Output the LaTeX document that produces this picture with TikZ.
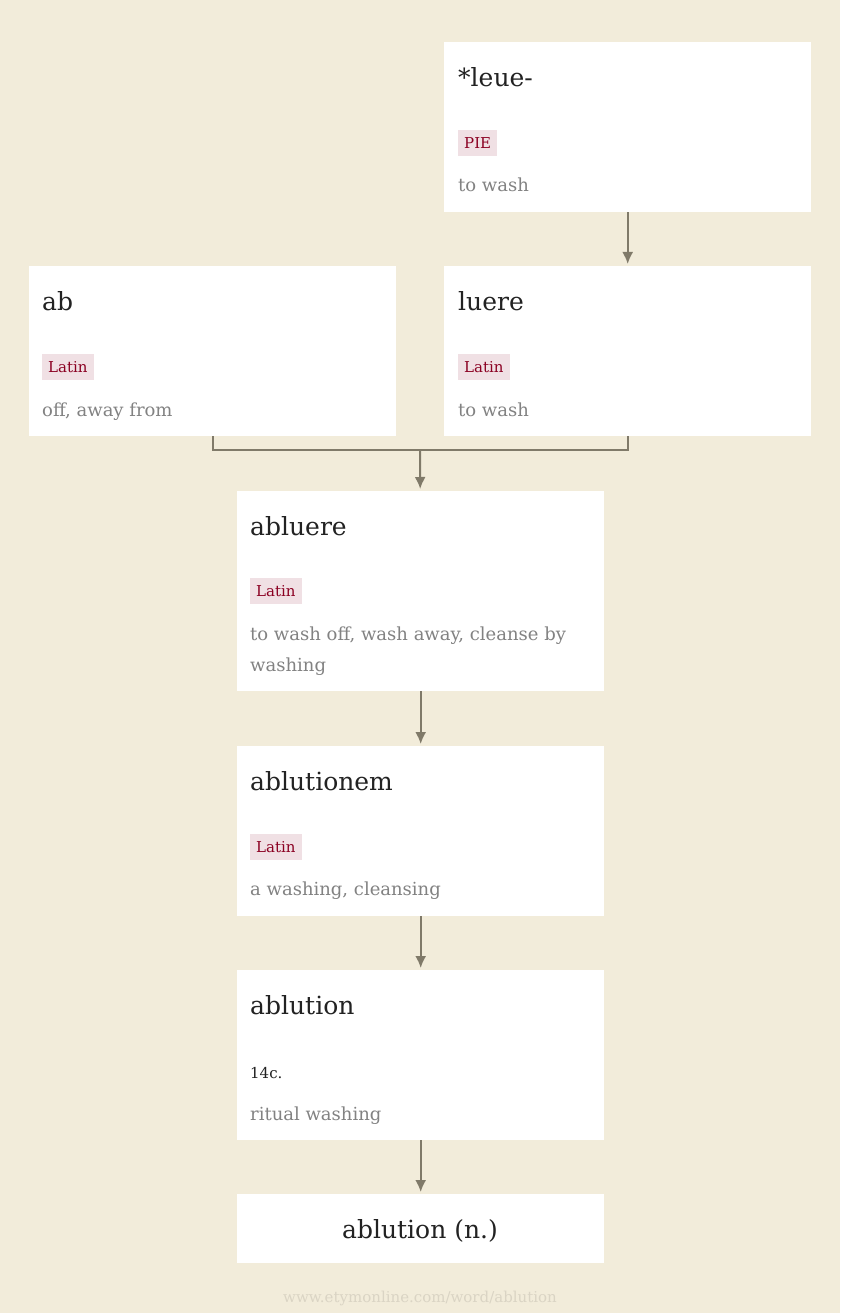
\documentclass[tikz,border=0pt]{standalone}
\usepackage{fontspec}
\setmainfont{DejaVu Serif}
\usetikzlibrary{arrows.meta}
\definecolor{paper}{RGB}{242,236,218}
\definecolor{wordtext}{RGB}{34,34,34}
\definecolor{glosstext}{RGB}{130,130,130}
\definecolor{tagtext}{RGB}{139,0,34}
\definecolor{tagbg}{RGB}{240,224,228}
\definecolor{linkcol}{RGB}{128,122,105}
\definecolor{foottext}{RGB}{218,212,196}

\begin{document}
\begin{tikzpicture}[x=1pt, y=-1pt,
    card/.style={rectangle, fill=white, inner sep=0pt, anchor=north west, minimum width=367pt, minimum height=170pt},
    word/.style={anchor=base west, inner sep=0pt, text=wordtext, font=\fontsize{25}{29}\selectfont},
    lang/.style={anchor=west, fill=tagbg, text=tagtext, inner xsep=6pt, inner ysep=0pt, minimum height=26pt, font=\fontsize{15}{18}\selectfont},
    gloss/.style={anchor=base west, inner sep=0pt, text=glosstext, align=left, font=\fontsize{18}{31}\selectfont},
    link/.style={draw=linkcol, line width=2pt},
    arrow/.style={link, -{Latex[length=12pt, width=11pt]}, shorten >=2pt}]
    \useasboundingbox[fill=paper] (0, 0) rectangle (840, 1313);

    % 語のカード
    \node[card] (leue) at (444, 42) {};
    \node[card] (ab) at (29, 266) {};
    \node[card] (luere) at (444, 266) {};
    \node[card, minimum height=200pt] (abluere) at (237, 491) {};
    \node[card] (ablutionem) at (237, 746) {};
    \node[card] (ablution) at (237, 970) {};
    \node[card, minimum height=69pt] (final) at (237, 1194) {};

    \node[word] (leue_word) at (458, 87) {*leue-};
    \node[lang] (leue_lang) at (458, 143) {PIE};
    \node[gloss] (leue_def) at (458, 192) {to wash};

    \node[word] (ab_word) at (42, 311) {ab};
    \node[lang] (ab_lang) at (42, 367) {Latin};
    \node[gloss] (ab_def) at (42, 416) {off, away from};

    \node[word] (luere_word) at (458, 311) {luere};
    \node[lang] (luere_lang) at (458, 367) {Latin};
    \node[gloss] (luere_def) at (458, 416) {to wash};

    \node[word] (abluere_word) at (250, 535) {abluere};
    \node[lang] (abluere_lang) at (250, 591) {Latin};
    \node[gloss] (abluere_def) at (250, 671) {to wash off, wash away, cleanse by\\washing};

    \node[word] (ablutionem_word) at (250, 790) {ablutionem};
    \node[lang] (ablutionem_lang) at (250, 847) {Latin};
    \node[gloss] (ablutionem_def) at (250, 895) {a washing, cleansing};

    \node[word] (ablution_word) at (250, 1014) {ablution};
    \node[word, font=\fontsize{15}{18}\selectfont] (ablution_date) at (250, 1078) {14c.};
    \node[gloss] (ablution_def) at (250, 1120) {ritual washing};

    \node[word, anchor=base] (final_word) at (420, 1238) {ablution (n.)};

    \node[anchor=base, inner sep=0pt, text=foottext, font=\fontsize{15}{18}\selectfont] (source) at (420, 1302) {www.etymonline.com/word/ablution};

    \coordinate (join) at (420, 450);

    \draw[arrow] (leue) -- (luere);
    \draw[link] (ab.south) |- (join) -| (luere.south);
    \draw[arrow] (join) -- (abluere);
    \draw[arrow] (abluere) -- (ablutionem);
    \draw[arrow] (ablutionem) -- (ablution);
    \draw[arrow] (ablution) -- (final);
\end{tikzpicture}
\end{document}
